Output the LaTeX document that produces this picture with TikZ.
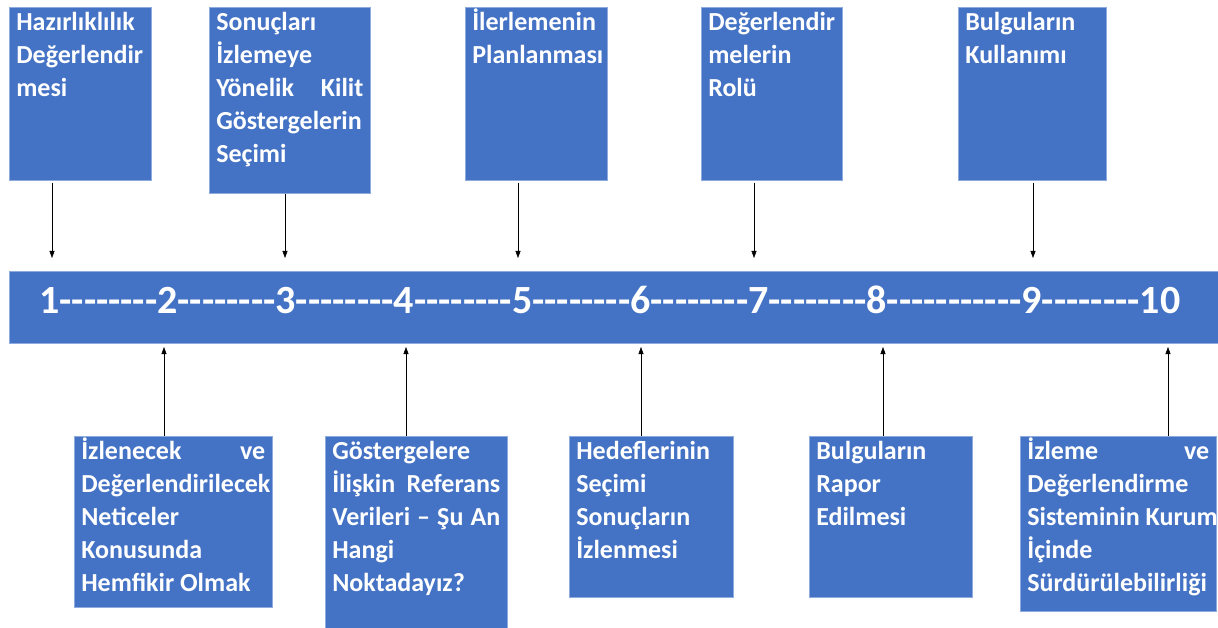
\documentclass[tikz,border=0pt]{standalone}
\usepackage{fontspec}
\setmainfont{Carlito}
\usetikzlibrary{arrows.meta}
\definecolor{cardblue}{HTML}{4472C4}
\definecolor{cardedge}{HTML}{8FAADC}
\newcommand{\cardtxt}[3]{\parbox[c][#1][t]{#2}{\raggedright\rule{0pt}{23pt}#3}}
\newcommand{\jline}[1]{\leavevmode\hbox to \linewidth{#1}}
\newcommand{\hy}{-\kern0pt }
\newcommand{\dashes}{\hy\hy\hy\hy\hy\hy\hy\hy}
\begin{document}
\begin{tikzpicture}[x=1pt,y=-1pt,
  card/.style={fill=cardblue, draw=cardedge, line width=0.6pt, inner xsep=7pt, inner ysep=0pt,
    anchor=north west, text=white, font=\bfseries\fontsize{26}{33}\selectfont, align=left},
  barbox/.style={fill=cardblue, draw=cardedge, line width=0.6pt},
  arr/.style={draw=black, line width=0.5pt, -{Triangle[width=5pt,length=7pt]}}]
\useasboundingbox (0,0) rectangle (1218,628);
% bar
\node[barbox, anchor=north west, minimum width=1209pt, minimum height=72pt, inner sep=0pt] (bar) at (9,271) {};
\node[anchor=base, text=white, font=\bfseries\fontsize{40}{44}\selectfont, inner sep=0pt] (nums) at (610,313)
  {1\dashes 2\dashes 3\dashes 4\dashes 5\dashes 6\dashes 7\dashes 8\dashes\hy\hy\hy 9\dashes 10};
% top cards
\node[card] (b1) at (9,7) {\cardtxt{173pt}{128pt}{Hazırlıklılık\\Değerlendir\\mesi}};
\node[card] (b2) at (209,7) {\cardtxt{186pt}{147pt}{Sonuçları\\İzlemeye\\\jline{Yönelik\hfill Kilit}\\Göstergelerin\\Seçimi}};
\node[card] (b3) at (465,7) {\cardtxt{173pt}{128pt}{İlerlemenin\\Planlanması}};
\node[card] (b4) at (701,7) {\cardtxt{173pt}{127pt}{Değerlendir\\melerin\\Rolü}};
\node[card] (b5) at (958,7) {\cardtxt{173pt}{134pt}{Bulguların\\Kullanımı}};
% bottom cards
\node[card] (bA) at (74,436) {\cardtxt{171pt}{184pt}{\jline{İzlenecek\hfill ve}\\Değerlendirilecek\\Neticeler\\Konusunda\\Hemfikir Olmak}};
\node[card] (bB) at (325,436) {\cardtxt{192pt}{168pt}{Göstergelere\\\jline{İlişkin\hfill Referans}\\\jline{Verileri\hfill –\hfill Şu\hfill An}\\Hangi\\Noktadayız?}};
\node[card] (bC) at (569,436) {\cardtxt{161pt}{150pt}{Hedeflerinin\\Seçimi\\Sonuçların\\İzlenmesi}};
\node[card] (bD) at (809,436) {\cardtxt{161pt}{149pt}{Bulguların\\Rapor\\Edilmesi}};
\node[card] (bE) at (1020,436) {\cardtxt{175pt}{182pt}{\jline{İzleme\hfill ve}\\Değerlendirme\\\makebox[\linewidth][l]{Sisteminin Kurum}\\İçinde\\Sürdürülebilirliği}};
% arrow targets
\coordinate (t1) at (52,258);
\coordinate (t2) at (285,258);
\coordinate (t3) at (518,258);
\coordinate (t4) at (754,258);
\coordinate (t5) at (1033,258);
\coordinate (uA) at (164,347);
\coordinate (uB) at (406,347);
\coordinate (uC) at (641,347);
\coordinate (uD) at (883,347);
\coordinate (uE) at (1168,347);
\draw[arr] ([yshift=-2pt]b1.south -| t1) -- (t1);
\draw[arr] (b2.south -| t2) -- (t2);
\draw[arr] ([yshift=-2pt]b3.south -| t3) -- (t3);
\draw[arr] ([yshift=-2pt]b4.south -| t4) -- (t4);
\draw[arr] ([yshift=-2pt]b5.south -| t5) -- (t5);
\draw[arr] (bA.north -| uA) -- (uA);
\draw[arr] (bB.north -| uB) -- (uB);
\draw[arr] (bC.north -| uC) -- (uC);
\draw[arr] (bD.north -| uD) -- (uD);
\draw[arr] (bE.north -| uE) -- (uE);
\end{tikzpicture}
\end{document}
